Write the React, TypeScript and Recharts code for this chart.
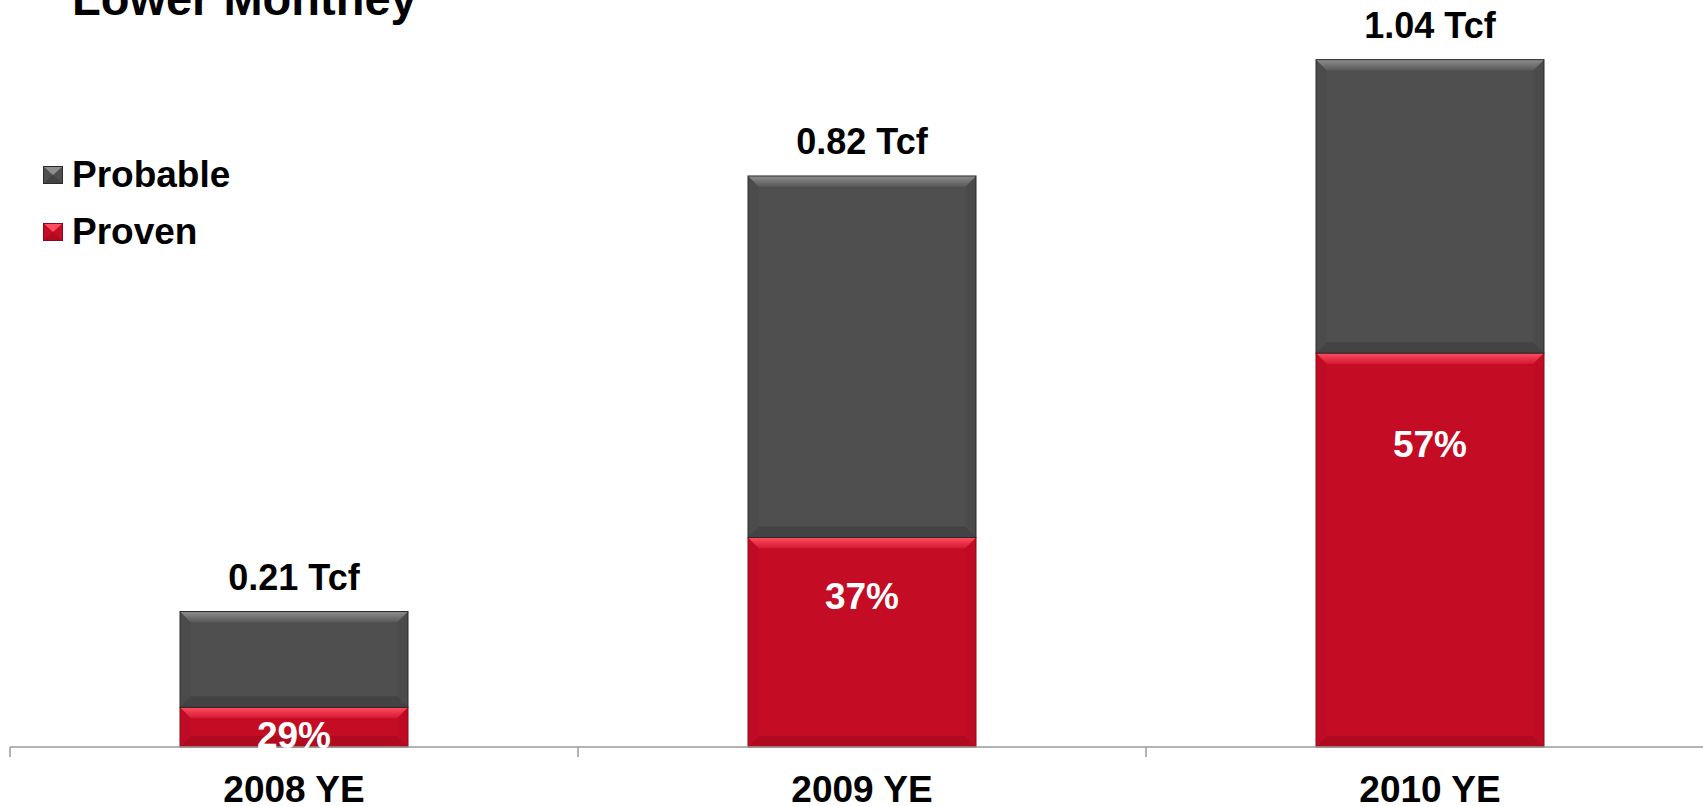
import React from 'react'
import { BarChart, Bar, XAxis, YAxis, Legend, LabelList } from 'recharts'

// values (bar heights, in Tcf)
const categories = ['2008 YE', '2009 YE', '2010 YE']
const proven = [0.06, 0.317, 0.596]
const probable = [0.145, 0.547, 0.444]
const totalLabels = ['0.21 Tcf', '0.82 Tcf', '1.04 Tcf']
const provenShare = ['29%', '37%', '57%']

const data = categories.map((name, i) => ({
  name,
  proven: proven[i],
  probable: probable[i],
}))

const W = 1720
const H = 807
const M = { top: 20, right: 6, left: 10, bottom: 0 }
const XAXIS_H = 60
const AXIS_Y = H - M.bottom - XAXIS_H
const BAND = (W - M.left - M.right) / categories.length
const FONT = '"Liberation Sans", Arial, Helvetica, sans-serif'

const DARK = { base: '#4f4f4f', hi: '#8e8e8e', side: '#4b4b4b', low: '#434343', edge: '#2b2b2b', id: 'gDark' }
const RED = { base: '#c40c24', hi: '#ff4d60', side: '#bf0b23', low: '#b00a1f', edge: '#8a0818', id: 'gRed' }

function bevelShape(c: typeof DARK) {
  return (props: any) => {
    const { x, y, width: w, height: h } = props
    if (!h || h <= 0) return <g />
    const b = Math.min(11, h / 3)
    return (
      <g>
        <rect x={x} y={y} width={w} height={h} fill={c.base} />
        <polygon points={`${x},${y} ${x + b},${y + b} ${x + b},${y + h - b} ${x},${y + h}`} fill={c.side} />
        <polygon points={`${x + w},${y} ${x + w - b},${y + b} ${x + w - b},${y + h - b} ${x + w},${y + h}`} fill={c.side} />
        <polygon points={`${x},${y + h} ${x + b},${y + h - b} ${x + w - b},${y + h - b} ${x + w},${y + h}`} fill={c.low} />
        <polygon points={`${x},${y} ${x + w},${y} ${x + w - b},${y + b} ${x + b},${y + b}`} fill={`url(#${c.id})`} />
        <rect x={x} y={y} width={w} height={h} fill="none" stroke={c.edge} strokeWidth={1} />
      </g>
    )
  }
}

function TotalLabel(props: any) {
  const { x, y, width, index } = props
  return (
    <text x={x + width / 2} y={y - 22} textAnchor="middle" fontFamily={FONT} fontWeight="bold" fontSize={36} fill="#000">
      {totalLabels[index]}
    </text>
  )
}

function ShareLabel(props: any) {
  const { x, y, width, height, index } = props
  return (
    <text x={x + width / 2} y={y + 20 + height * 0.18} dy="0.36em" textAnchor="middle" fontFamily={FONT} fontWeight="bold" fontSize={37} fill="#fff">
      {provenShare[index]}
    </text>
  )
}

function Tick(props: any) {
  const { x, payload, index } = props
  const last = index === categories.length - 1
  return (
    <g>
      <line x1={x - BAND / 2} x2={x - BAND / 2} y1={AXIS_Y} y2={AXIS_Y + 10} stroke="#9a9a9a" strokeWidth={1.5} />
      {last && <line x1={x + BAND / 2} x2={x + BAND / 2} y1={AXIS_Y} y2={AXIS_Y + 10} stroke="#9a9a9a" strokeWidth={1.5} />}
      <text x={x} y={AXIS_Y + 55} textAnchor="middle" fontFamily={FONT} fontWeight="bold" fontSize={37} fill="#000">
        {payload.value}
      </text>
    </g>
  )
}

function Swatch({ c }: { c: typeof DARK }) {
  return (
    <svg width={20} height={18} style={{ display: 'block' }}>
      <rect x={0} y={0} width={20} height={18} fill={c.base} />
      <polygon points="0,0 20,0 10,9" fill={c.hi} />
      <polygon points="0,18 20,18 10,9" fill={c.low} />
      <rect x={0.5} y={0.5} width={19} height={17} fill="none" stroke={c.edge} strokeWidth={1} />
    </svg>
  )
}

function LegendBox() {
  const rows = [
    { label: 'Probable', c: DARK },
    { label: 'Proven', c: RED },
  ]
  return (
    <div style={{ fontFamily: FONT, fontWeight: 'bold', fontSize: 37, color: '#000' }}>
      {rows.map((r) => (
        <div key={r.label} style={{ display: 'flex', alignItems: 'center', height: 57 }}>
          <Swatch c={r.c} />
          <span style={{ marginLeft: 9, lineHeight: '37px' }}>{r.label}</span>
        </div>
      ))}
    </div>
  )
}

export default function App() {
  return (
    <div style={{ position: 'absolute', left: 0, top: 0, width: 1703, height: 807, overflow: 'hidden', background: '#fff' }}>
      <svg width={0} height={0} style={{ position: 'absolute' }}>
        <defs>
          <linearGradient id="gDark" x1="0" y1="0" x2="0" y2="1">
            <stop offset="0%" stopColor={DARK.hi} />
            <stop offset="100%" stopColor="#575757" />
          </linearGradient>
          <linearGradient id="gRed" x1="0" y1="0" x2="0" y2="1">
            <stop offset="0%" stopColor={RED.hi} />
            <stop offset="100%" stopColor="#d4182f" />
          </linearGradient>
        </defs>
      </svg>
      <div
        style={{
          position: 'absolute', left: 72, top: -25, fontFamily: FONT, fontWeight: 'bold',
          fontSize: 47, lineHeight: '47px', whiteSpace: 'nowrap', color: '#000',
        }}
      >
        Lower Monthey
      </div>
      <BarChart width={W} height={H} data={data} margin={M} barSize={228}>
        <XAxis
          dataKey="name"
          height={XAXIS_H}
          axisLine={{ stroke: '#9a9a9a', strokeWidth: 1.5 }}
          tickLine={false}
          tick={<Tick />}
          interval={0}
        />
        <YAxis hide domain={[0, 1.1]} />
        <Legend
          layout="horizontal"
          align="center"
          verticalAlign="middle"
          content={<LegendBox />}
          wrapperStyle={{ left: 43, top: 146, width: 320, height: 120 }}
        />
        <Bar dataKey="proven" stackId="a" shape={bevelShape(RED)} isAnimationActive={false}>
          <LabelList dataKey="proven" content={<ShareLabel />} />
        </Bar>
        <Bar dataKey="probable" stackId="a" shape={bevelShape(DARK)} isAnimationActive={false}>
          <LabelList dataKey="probable" content={<TotalLabel />} />
        </Bar>
      </BarChart>
    </div>
  )
}
